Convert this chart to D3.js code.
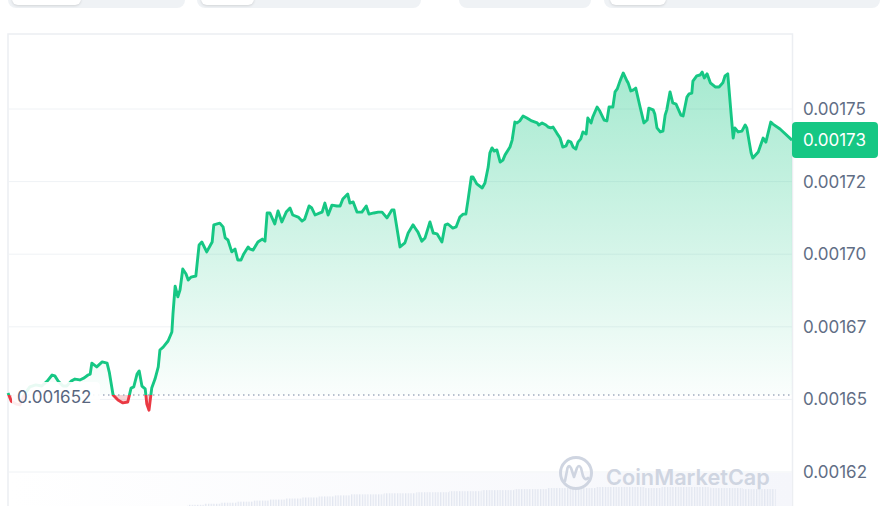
<!DOCTYPE html>
<html>
<head>
<meta charset="utf-8">
<script src="https://cdn.jsdelivr.net/npm/d3@7"></script>
<style>
  body { margin: 0; background: #fff; }
  svg { display: block; font-family: Inter, "Noto Sans", sans-serif; }
</style>
</head>
<body>
<svg id="chart" width="884" height="506"></svg>
<script>
// minutes since the start of the 24h window
var times = [0,6,15,22,31,40,51,62,72,81,
  86,92,101,108,116,123,132,140,147,151,
  154,163,173,182,186,193,202,211,220,226,
  231,237,241,246,252,255,259,264,270,276,
  279,285,294,301,303,307,312,316,321,327,
  331,336,345,351,356,365,375,378,389,395,
  399,404,411,417,422,428,433,441,444,450,
  459,467,472,476,481,490,496,503,511,518,
  523,533,540,545,553,558,564,573,577,582,
  588,595,604,610,615,624,628,634,641,650,
  658,663,672,680,687,696,705,709,720,729,
  735,744,749,753,760,766,775,781,788,797,
  803,808,817,823,830,836,841,845,851,854,
  861,871,876,882,885,889,893,898,904,909,
  913,922,926,931,935,940,946,953,962,972,
  975,981,988,992,997,1001,1008,1014,1019,1025,
  1029,1034,1038,1043,1047,1052,1056,1062,1065,1071,
  1074,1082,1087,1095,1100,1104,1111,1115,1119,1124,
  1130,1137,1139,1144,1148,1153,1161,1168,1174,1177,
  1185,1188,1192,1198,1203,1207,1210,1216,1221,1227,
  1236,1240,1247,1251,1256,1258,1265,1271,1275,1279,
  1284,1290,1299,1306,1313,1317,1322,1328,1332,1335,
  1341,1348,1354,1357,1365,1368,1378,1387,1392,1401,
  1405,1418,1440];

// price in millionths of a dollar
var pricesMicro = [1652.2,1649.4,1648.4,1648.1,1651.9,1654.3,1655.0,1654.6,1656.3,1658.4,
  1658.1,1656.3,1654.6,1654.6,1656.3,1657.0,1656.7,1657.4,1658.4,1658.7,
  1662.5,1661.2,1662.9,1662.5,1659.4,1651.5,1649.8,1648.8,1649.1,1653.9,
  1654.3,1658.7,1659.8,1654.6,1653.6,1648.4,1646.3,1653.9,1657.0,1661.2,
  1667.0,1668.0,1670.1,1673.2,1679.4,1689.0,1685.3,1687.7,1694.9,1693.2,
  1691.1,1692.1,1692.5,1703.2,1704.2,1700.8,1704.2,1710.1,1710.7,1709.4,
  1705.6,1704.9,1700.8,1701.8,1698.0,1698.0,1700.1,1702.5,1701.8,1701.4,
  1704.2,1705.2,1704.5,1714.2,1714.2,1710.4,1714.9,1711.1,1714.5,1715.9,
  1713.5,1712.8,1711.4,1712.1,1716.6,1715.9,1713.5,1714.2,1714.5,1717.6,
  1713.5,1716.9,1716.6,1716.6,1719.0,1720.7,1717.6,1718.0,1714.5,1714.5,
  1716.6,1713.8,1714.2,1714.5,1714.5,1712.5,1715.2,1715.2,1702.5,1703.9,
  1707.3,1710.1,1708.7,1707.6,1704.5,1705.6,1711.1,1707.3,1707.0,1704.2,
  1710.1,1710.4,1709.0,1709.4,1712.8,1713.8,1713.8,1718.7,1726.6,1726.6,
  1724.2,1722.8,1724.5,1730.0,1734.8,1736.6,1735.5,1735.9,1731.7,1732.4,
  1734.2,1736.9,1739.3,1745.5,1745.2,1745.9,1747.6,1746.9,1745.9,1745.2,
  1744.5,1745.2,1744.5,1743.8,1743.5,1743.8,1741.7,1740.0,1736.9,1737.3,
  1739.0,1738.6,1736.9,1736.2,1738.6,1739.7,1742.1,1741.4,1746.9,1745.2,
  1747.2,1750.7,1749.3,1746.2,1745.9,1750.7,1750.7,1755.9,1756.9,1759.6,
  1762.4,1759.6,1759.0,1756.2,1756.5,1757.2,1750.7,1745.2,1746.2,1750.3,
  1749.7,1748.3,1743.5,1742.1,1742.4,1747.9,1749.7,1755.9,1752.1,1751.7,
  1747.9,1747.6,1754.1,1755.2,1755.5,1759.6,1761.4,1761.7,1762.7,1760.7,
  1762.1,1759.0,1757.6,1757.6,1759.0,1761.4,1762.1,1748.6,1740.0,1743.5,
  1742.1,1742.4,1744.5,1743.5,1734.8,1733.1,1735.2,1740.0,1738.6,1745.5,
  1744.8,1743.1,1739.3];

// volume per 30 minute bucket (relative)
var volumes = [0,0,0,0,0,0,0,0,0,0,0,4,5,6,7,8,9,10,11,12,13,14,14,15,15,16,16,17,17,18,
  18,19,19,20,20,20,21,21,21,20,21,21,21,20,20,19,19,0];

var tickValues = [0.001625, 0.00165, 0.001675, 0.0017, 0.001725, 0.00175];
var tickLabels = ["0.00162", "0.00165", "0.00167", "0.00170", "0.00172", "0.00175"];
var openPrice = 0.0016515;
var openLabel = "0.001652";
var lastLabel = "0.00173";

var green = "#16c784", red = "#ea3943";

var data = times.map(function (t, i) { return { t: t, p: pricesMicro[i] * 1e-6 }; });

var svg = d3.select("#chart");
var defs = svg.append("defs");

// scales
var x = d3.scaleLinear().domain([0, 1440]).range([8, 792]);
var y = d3.scaleLinear().domain([0.001625, 0.00175]).range([472, 109]);
var yBase = y(openPrice);

// top tab strip (cut off)
var pills = [[8, 185], [197, 421], [459, 591], [604, 880]];
var tabs = [[12, 81], [201, 254], [610, 666]];
svg.selectAll(".pill").data(pills).enter().append("rect")
  .attr("x", function (d) { return d[0]; })
  .attr("y", -12)
  .attr("width", function (d) { return d[1] - d[0]; })
  .attr("height", 20)
  .attr("rx", 8)
  .attr("fill", "#eff2f5");
svg.selectAll(".tab").data(tabs).enter().append("rect")
  .attr("x", function (d) { return d[0]; })
  .attr("y", -12)
  .attr("width", function (d) { return d[1] - d[0]; })
  .attr("height", 17)
  .attr("rx", 6)
  .attr("fill", "#fff")
  .style("filter", "drop-shadow(0 1px 1px rgba(0,0,0,0.12))");

// chart frame
svg.append("path")
  .attr("d", "M8,506 V34 H792.5 V506")
  .attr("fill", "none")
  .attr("stroke", "#eceef2")
  .attr("stroke-width", 1.5);

// volume area background
var vg = defs.append("linearGradient").attr("id", "volBg");
vg.append("stop").attr("offset", "0%").attr("stop-color", "#fff");
vg.append("stop").attr("offset", "100%").attr("stop-color", "#f5f6fb");
svg.append("rect").attr("x", 9).attr("y", 473).attr("width", 783).attr("height", 33)
  .attr("fill", "url(#volBg)");

var stripes = defs.append("pattern").attr("id", "stripes")
  .attr("patternUnits", "userSpaceOnUse").attr("width", 2.7).attr("height", 10);
stripes.append("rect").attr("width", 1.3).attr("height", 10).attr("fill", "#e2e6f0");

var vScale = d3.scaleLinear().domain([0, 21]).range([0, 22]);
svg.append("g").selectAll("rect").data(volumes).enter().append("rect")
  .attr("x", function (d, i) { return x(i * 30); })
  .attr("width", function (d, i) { return x((i + 1) * 30) - x(i * 30); })
  .attr("y", function (d) { return 509 - vScale(d); })
  .attr("height", function (d) { return vScale(d); })
  .attr("fill", "url(#stripes)");

// gridlines
svg.append("g").selectAll("line").data(tickValues).enter().append("line")
  .attr("x1", 8).attr("x2", 792)
  .attr("y1", function (d) { return y(d); })
  .attr("y2", function (d) { return y(d); })
  .attr("stroke", "#eff2f5")
  .attr("stroke-width", 1);

// watermark
var wm = svg.append("g").attr("fill", "none").attr("stroke", "#cfd5e1");
wm.append("circle").attr("cx", 576).attr("cy", 473).attr("r", 15.5).attr("stroke-width", 3);
wm.append("path")
  .attr("d", "M565,481 L567.5,468 Q569,464 571,468 L574,477 L577,468 Q579,464 581,468 L583,476 Q585,481 588,478")
  .attr("stroke-width", 2.6).attr("stroke-linejoin", "round").attr("stroke-linecap", "round");
svg.append("text")
  .attr("x", 606).attr("y", 485)
  .attr("font-size", 21.7).attr("font-weight", 600)
  .attr("fill", "#cfd5e1")
  .text("CoinMarketCap");

// clips above / below the open price
defs.append("clipPath").attr("id", "clipUp").append("rect")
  .attr("x", 0).attr("y", 0).attr("width", 884).attr("height", yBase);
defs.append("clipPath").attr("id", "clipDown").append("rect")
  .attr("x", 0).attr("y", yBase).attr("width", 884).attr("height", 506 - yBase);

var maxP = d3.max(data, function (d) { return d.p; });
var grad = defs.append("linearGradient").attr("id", "upFill")
  .attr("gradientUnits", "userSpaceOnUse")
  .attr("x1", 0).attr("x2", 0).attr("y1", y(maxP)).attr("y2", yBase);
grad.append("stop").attr("offset", "0%").attr("stop-color", green).attr("stop-opacity", 0.38);
grad.append("stop").attr("offset", "100%").attr("stop-color", green).attr("stop-opacity", 0.02);

var area = d3.area()
  .x(function (d) { return x(d.t); })
  .y0(yBase)
  .y1(function (d) { return y(d.p); });
var line = d3.line()
  .x(function (d) { return x(d.t); })
  .y(function (d) { return y(d.p); });

svg.append("path").datum(data).attr("d", area)
  .attr("fill", "url(#upFill)").attr("clip-path", "url(#clipUp)");
svg.append("path").datum(data).attr("d", area)
  .attr("fill", red).attr("fill-opacity", 0.22).attr("clip-path", "url(#clipDown)");

// dotted open price line
svg.append("line")
  .attr("x1", 8).attr("x2", 792).attr("y1", yBase).attr("y2", yBase)
  .attr("stroke", "#a3adbf").attr("stroke-width", 1.5)
  .attr("stroke-dasharray", "1.5,3.5");

svg.append("path").datum(data).attr("d", line)
  .attr("fill", "none").attr("stroke", green).attr("stroke-width", 2.9)
  .attr("stroke-linejoin", "round").attr("clip-path", "url(#clipUp)");
svg.append("path").datum(data).attr("d", line)
  .attr("fill", "none").attr("stroke", red).attr("stroke-width", 2.9)
  .attr("stroke-linejoin", "round").attr("clip-path", "url(#clipDown)");

// open price label
svg.append("rect")
  .attr("x", 12).attr("y", yBase - 13).attr("width", 88).attr("height", 25)
  .attr("rx", 4).attr("fill", "#fff").attr("fill-opacity", 0.9);
svg.append("text")
  .attr("x", 17).attr("y", yBase + 2)
  .attr("dominant-baseline", "central")
  .attr("font-size", 17).attr("fill", "#58667e")
  .text(openLabel);

// right axis
var axis = svg.append("g")
  .attr("transform", "translate(792,0)")
  .call(d3.axisRight(y).tickValues(tickValues).tickSize(0).tickPadding(11)
    .tickFormat(function (d, i) { return tickLabels[i]; }));
axis.select(".domain").remove();
axis.selectAll("text")
  .attr("font-family", "Inter, 'Noto Sans', sans-serif")
  .attr("font-size", 17)
  .attr("fill", "#616e85");

// last price tag
var last = data[data.length - 1];
svg.append("rect")
  .attr("x", 792).attr("y", y(last.p) - 18).attr("width", 86).attr("height", 36)
  .attr("rx", 4).attr("fill", green);
svg.append("text")
  .attr("x", 803).attr("y", y(last.p))
  .attr("dominant-baseline", "central")
  .attr("font-size", 17).attr("fill", "#fff")
  .text(lastLabel);
</script>
</body>
</html>
